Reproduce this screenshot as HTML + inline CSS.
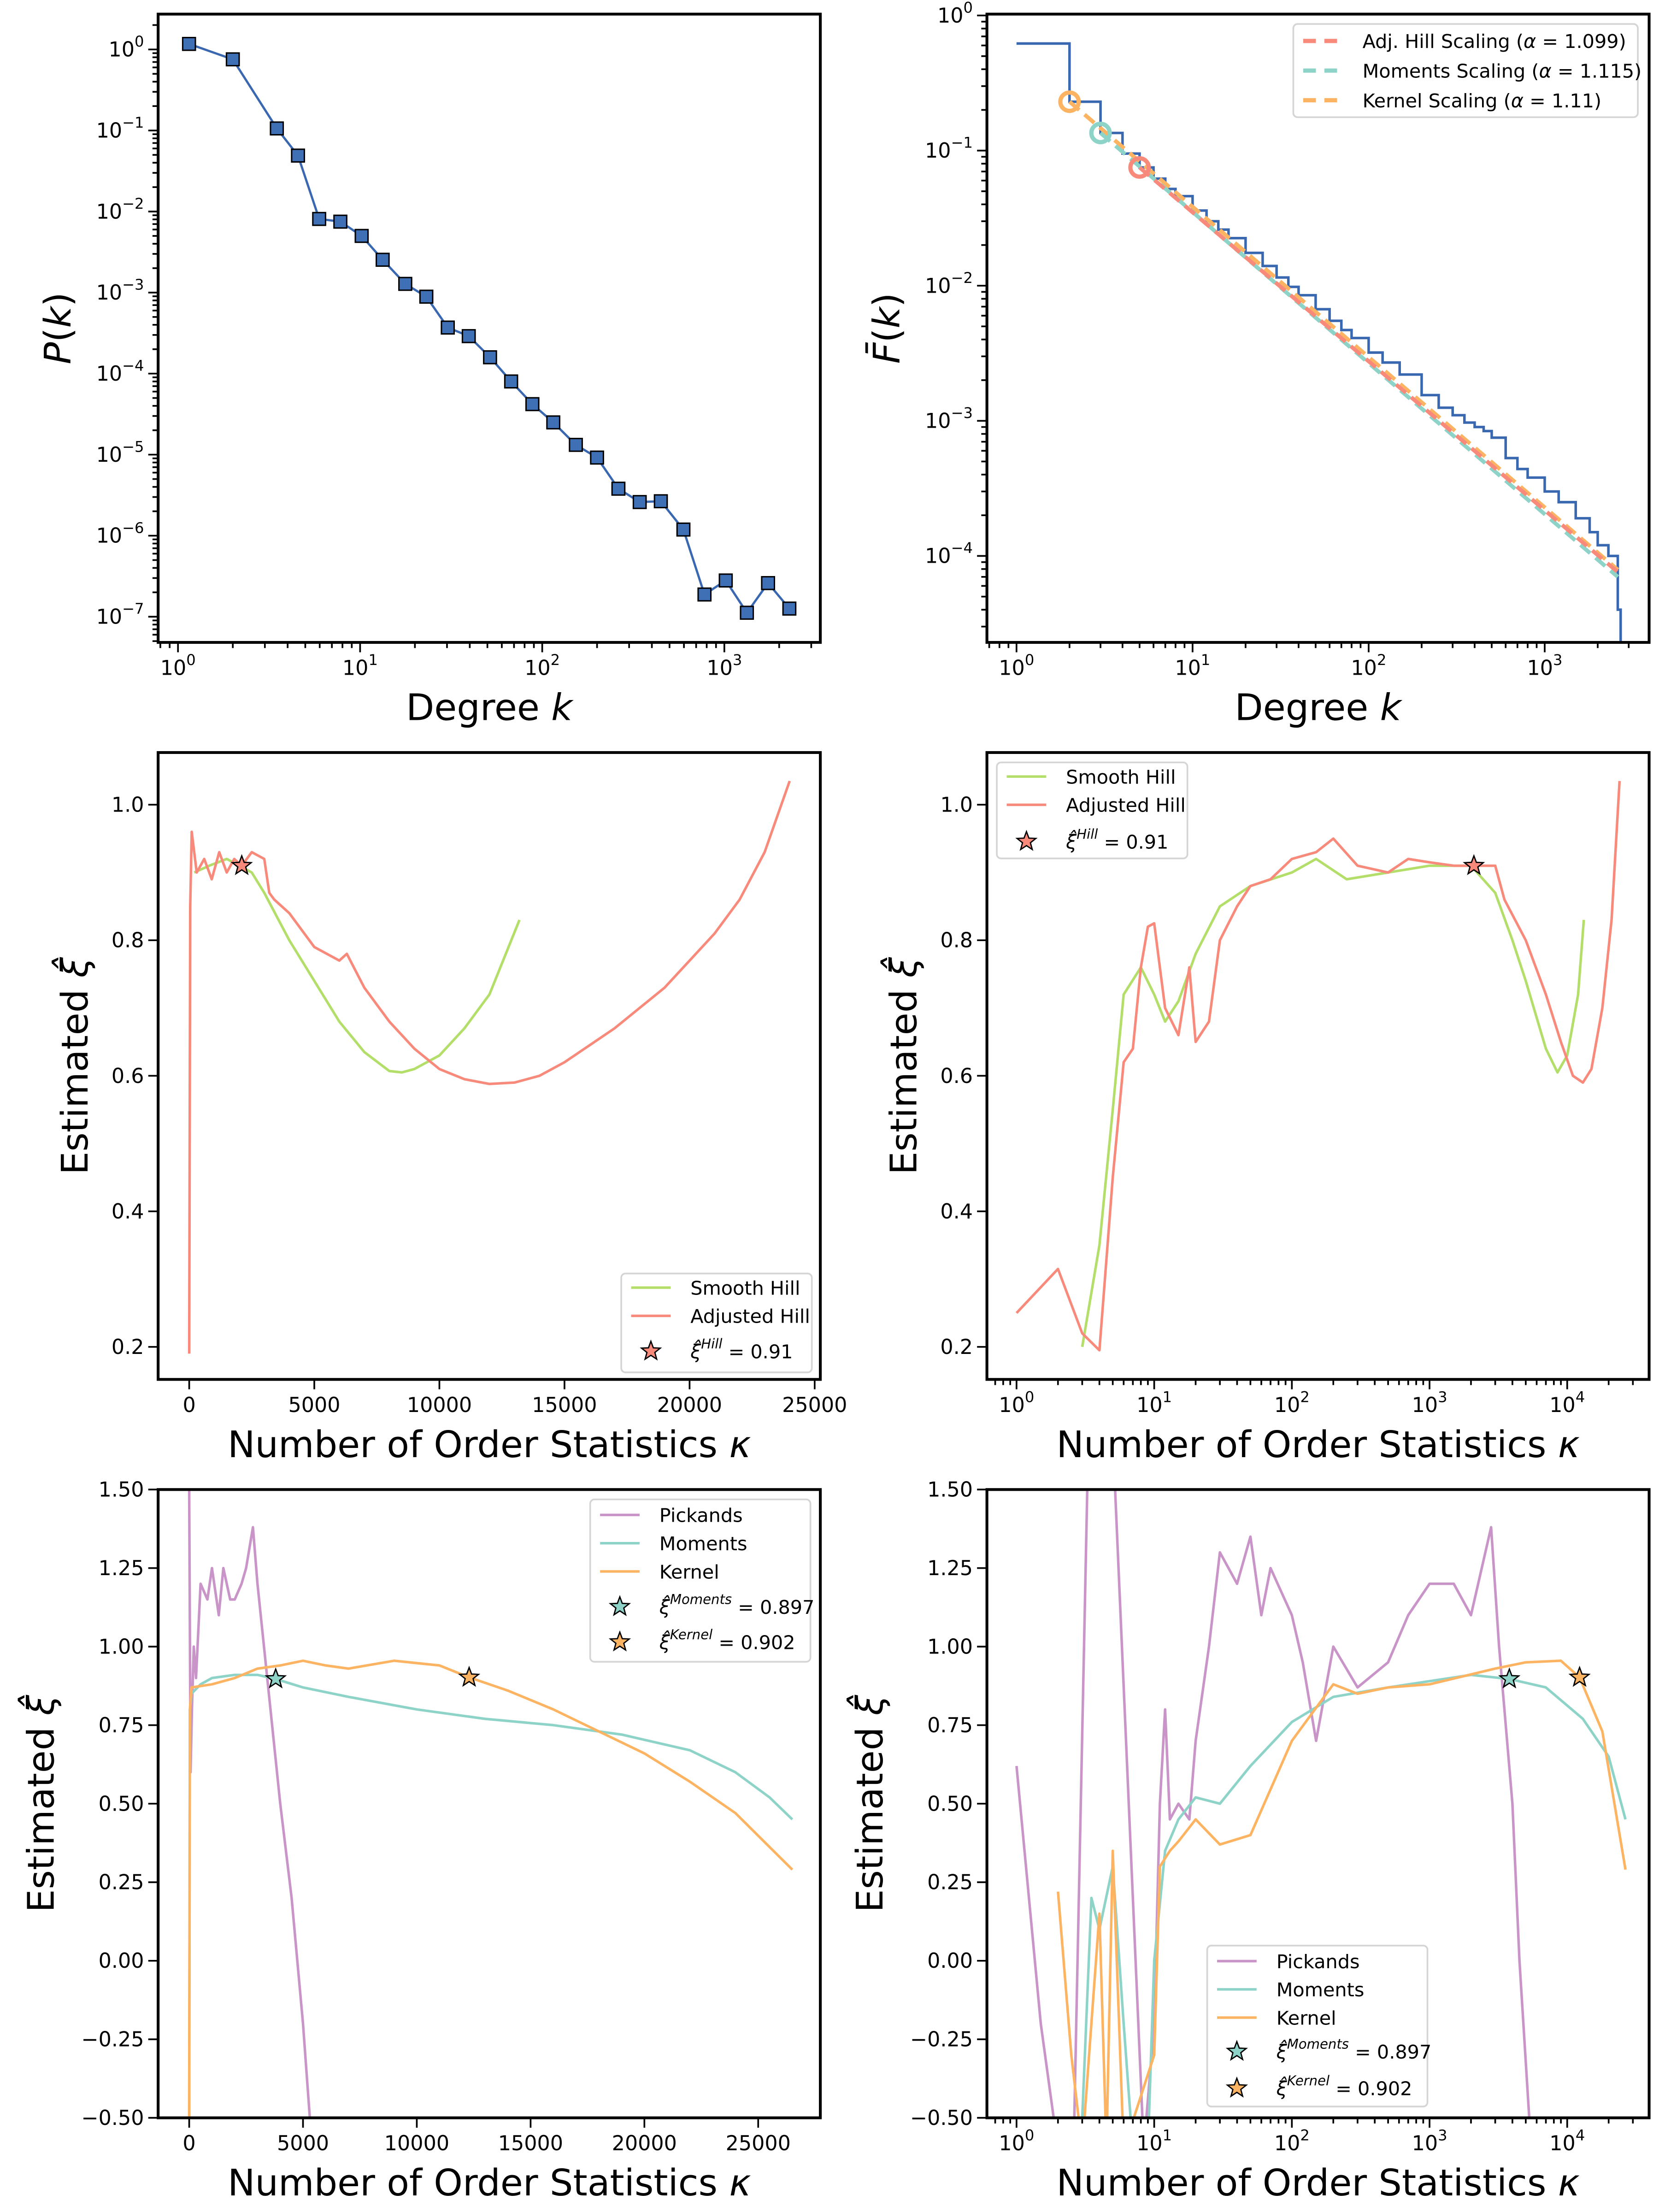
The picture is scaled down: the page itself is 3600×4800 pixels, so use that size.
<!DOCTYPE html>
<html><head><meta charset="utf-8"><style>
html,body{margin:0;padding:0;background:#fff;}
svg{display:block;}
text{font-family:"DejaVu Sans","Liberation Sans",sans-serif;fill:#000;}
</style></head><body>
<svg id="fig" xmlns="http://www.w3.org/2000/svg" width="3600" height="4800" viewBox="0 0 1175 1566.7" preserveAspectRatio="none">
<rect x="0" y="0" width="1175" height="1567" fill="#fff"/>
</svg>
<script>
// ---------- data ----------
const p1Degree=[1.15,2.0,3.49,4.56,5.96,7.79,10.2,13.3,17.7,23.1,30.3,39.5,51.7,67.5,88.3,115,153,200,262,343,448,596,778,1018,1330,1738,2275];
const p1Prob=[1.17,0.755,0.106,0.049,0.0081,0.0075,0.005,0.00254,0.00128,0.00089,0.00037,0.00029,0.000159,8.0e-5,4.2e-5,2.5e-5,1.32e-5,9.2e-6,3.8e-6,2.6e-6,2.66e-6,1.19e-6,1.88e-7,2.8e-7,1.12e-7,2.6e-7,1.26e-7];

const p2Degree=[1,2,3,4,5,6,7,8,10,12,14,16,20,25,30,35,40,50,60,70,80,100,120,150,200,250,300,350,400,450,500,600,700,800,1000,1200,1500,1800,2000,2300,2600,2700];
const p2Ccdf=[0.62,0.23,0.135,0.095,0.075,0.062,0.052,0.046,0.036,0.030,0.026,0.0225,0.0175,0.014,0.0115,0.0098,0.0085,0.0067,0.0055,0.0047,0.0041,0.0032,0.0027,0.0022,0.00155,0.00125,0.0011,0.00097,0.0009,0.00084,0.00075,0.00053,0.00044,0.00038,0.0003,0.00025,0.00019,0.00015,0.00012,0.0001,0.00004,0.00002];
const scalingNames=["Adj. Hill Scaling","Moments Scaling","Kernel Scaling"];
const scalingAlpha=["1.099","1.115","1.11"];
const scalingStartK=[5,3,2];
const scalingStartF=[0.075,0.135,0.23];
const scalingEndK=[2600,2600,2600];
const scalingEndF=[7.6e-5,7.0e-5,7.9e-5];

const hillLinK=[0,40,100,300,600,900,1200,1500,1800,2100,2500,3000,3200,3400,4000,5000,6000,6300,7000,8000,9000,10000,11000,12000,13000,14000,15000,16000,17000,18000,19000,20000,21000,22000,23000,24000];
const hillLinV=[0.19,0.85,0.96,0.9,0.92,0.89,0.93,0.9,0.92,0.91,0.93,0.92,0.87,0.86,0.84,0.79,0.77,0.78,0.73,0.68,0.64,0.61,0.595,0.588,0.59,0.60,0.62,0.645,0.67,0.70,0.73,0.77,0.81,0.86,0.93,1.035];
const smoothLinK=[200,800,1500,2500,3000,4000,5000,6000,7000,8000,8500,9000,10000,11000,12000,13200];
const smoothLinV=[0.90,0.91,0.92,0.90,0.87,0.80,0.74,0.68,0.635,0.607,0.605,0.61,0.63,0.67,0.72,0.83];

const hillLogK=[1,2,3,4,5,6,7,8,9,10,12,15,18,20,25,30,40,50,70,100,150,200,300,500,700,1000,1500,2100,3000,3500,5000,7000,9000,11000,13000,15000,18000,21000,24000];
const hillLogV=[0.25,0.315,0.22,0.195,0.45,0.62,0.64,0.76,0.82,0.825,0.70,0.66,0.76,0.65,0.68,0.80,0.85,0.88,0.89,0.92,0.93,0.95,0.91,0.90,0.92,0.915,0.91,0.91,0.91,0.86,0.80,0.72,0.65,0.60,0.59,0.61,0.70,0.83,1.035];
const smoothLogK=[3,4,5,6,8,10,12,15,20,30,50,100,150,250,500,1000,2000,3000,4000,5000,7000,8500,10000,12000,13200];
const smoothLogV=[0.20,0.35,0.55,0.72,0.76,0.72,0.68,0.71,0.78,0.85,0.88,0.90,0.92,0.89,0.90,0.91,0.91,0.87,0.80,0.74,0.64,0.605,0.63,0.72,0.83];

const pickLinK=[0,60,120,200,300,500,800,1000,1300,1500,1800,2000,2300,2500,2800,3000,3500,4000,4500,5000,5300];
const pickLinV=[1.5,0.6,0.8,1.0,0.9,1.2,1.15,1.25,1.1,1.25,1.15,1.15,1.2,1.25,1.38,1.2,0.85,0.5,0.2,-0.2,-0.5];
const momLinK=[0,30,100,500,1000,2000,3000,3800,5000,7000,10000,13000,16000,19000,22000,24000,25500,26500];
const momLinV=[-0.5,0.8,0.85,0.88,0.9,0.91,0.91,0.897,0.87,0.84,0.80,0.77,0.75,0.72,0.67,0.60,0.52,0.45];
const kerLinK=[0,30,100,1000,2000,3000,4000,5000,6000,7000,9000,11000,12300,14000,16000,18000,20000,22000,24000,26500];
const kerLinV=[-0.5,0.8,0.87,0.88,0.90,0.93,0.94,0.955,0.94,0.93,0.955,0.94,0.902,0.86,0.80,0.73,0.66,0.57,0.47,0.29];

const pickLogK=[1,1.5,2,2.6,3.3,4.5,5.2,8.4,10,11,12,13,15,18,20,25,30,40,50,60,70,100,120,150,200,300,500,700,1000,1500,2000,2800,3200,4000,4500,5300];
const pickLogV=[0.62,-0.2,-0.6,-0.6,1.6,1.6,1.5,-0.6,-0.2,0.5,0.8,0.45,0.5,0.45,0.7,1.0,1.3,1.2,1.35,1.1,1.25,1.1,0.95,0.7,1.0,0.87,0.95,1.1,1.2,1.2,1.1,1.38,1.0,0.5,0.0,-0.5];
const momLogK=[3,3.5,4,5,6,7,9,10,12,15,20,30,50,100,200,500,1000,2000,3800,7000,13000,20000,26500];
const momLogV=[-0.5,0.2,0.1,0.3,-0.2,-0.6,-0.6,0.0,0.35,0.45,0.52,0.5,0.62,0.76,0.84,0.87,0.89,0.91,0.897,0.87,0.77,0.65,0.45];
const kerLogK=[2,2.5,3,4,4.5,5,6,10,11,13,15,20,30,50,100,200,300,500,1000,3000,5000,9000,12300,18000,26500];
const kerLogV=[0.22,-0.3,-0.6,0.15,-0.6,0.35,-0.6,-0.3,0.3,0.35,0.38,0.45,0.37,0.4,0.7,0.88,0.85,0.87,0.88,0.93,0.95,0.955,0.902,0.73,0.29];

// ---------- helpers ----------
const NS="http://www.w3.org/2000/svg";
const fig=document.getElementById('fig');
function el(tag,attrs,parent){const e=document.createElementNS(NS,tag);for(const k in attrs)e.setAttribute(k,attrs[k]);(parent||fig).appendChild(e);return e;}
const C={blue:"#3a68b0",red:"#f88a7c",teal:"#8dd3c7",orange:"#fdb462",green:"#b3de69",purple:"#c994c7"};
let clipId=0;
function axes(cfg){
  const g=el('g',{});
  
  
  const {x0,x1,y0,y1}=cfg;
  const lg=v=>Math.log10(v);
  const sx=cfg.xlog?(v=>x0+(lg(v)-cfg.xmin)/(cfg.xmax-cfg.xmin)*(x1-x0)):(v=>x0+(v-cfg.xmin)/(cfg.xmax-cfg.xmin)*(x1-x0));
  const sy=cfg.ylog?(v=>y1-(lg(v)-cfg.ymin)/(cfg.ymax-cfg.ymin)*(y1-y0)):(v=>y1-(v-cfg.ymin)/(cfg.ymax-cfg.ymin)*(y1-y0));
  const id='clip'+(clipId++);
  const cp=el('clipPath',{id:id},g);el('rect',{x:x0,y:y0,width:x1-x0,height:y1-y0},cp);
  const plot=el('g',{'clip-path':'url(#'+id+')'},g);
  
  
  const tg=el('g',{stroke:'#000','stroke-width':1.2},g);
  function xt(v,label,major){const X=sx(v);if(X<x0-0.5||X>x1+0.5)return;el('line',{x1:X,y1:y1,x2:X,y2:y1+(major?7:4)},tg);
    if(label!==null){const t=el('text',{x:X,y:y1+23,'font-size':14.5,'text-anchor':'middle',stroke:'none'},g);label(t);}}
  function yt(v,label,major){const Y=sy(v);if(Y<y0-0.5||Y>y1+0.5)return;el('line',{x1:x0,y1:Y,x2:x0-(major?7:4),y2:Y},tg);
    if(label!==null){const t=el('text',{x:x0-10,y:Y+5,'font-size':14.5,'text-anchor':'end',stroke:'none'},g);label(t);}}
  function pow(t,e){t.textContent='10';const s=el('tspan',{dy:-7,'font-size':10.5},t);s.textContent=(e<0?'\u2212':'')+Math.abs(e);}
  if(cfg.xlog){for(let e=Math.floor(cfg.xmin);e<=Math.ceil(cfg.xmax);e++){xt(Math.pow(10,e),t=>pow(t,e),true);for(let m=2;m<10;m++)xt(m*Math.pow(10,e),null,false);}}
  else cfg.xticks.forEach(v=>xt(v,t=>t.textContent=String(v),true));
  if(cfg.ylog){for(let e=Math.floor(cfg.ymin);e<=Math.ceil(cfg.ymax);e++){yt(Math.pow(10,e),t=>pow(t,e),true);for(let m=2;m<10;m++)yt(m*Math.pow(10,e),null,false);}}
  else cfg.yticks.forEach(v=>yt(v,t=>t.textContent=cfg.yfmt(v),true));
  el('rect',{x:x0,y:y0,width:x1-x0,height:y1-y0,fill:'none',stroke:'#000','stroke-width':2},g);
  const xl=el('text',{x:(x0+x1)/2,y:y1+55,'font-size':26,'text-anchor':'middle'},g);
  
  cfg.xlabel(xl);
  const yl=el('text',{x:0,y:0,'font-size':26,'text-anchor':'middle',transform:`translate(${cfg.ylx},${(y0+y1)/2}) rotate(-90)`},g);
  
  cfg.ylabel(yl);
  return {g,plot,sx,sy};
}
function ts(parent,text,attrs){const s=el('tspan',attrs||{},parent);s.textContent=text;return s;}
function degreeLabel(t){ts(t,'Degree ');ts(t,'k',{'font-style':'italic'});}
function orderLabel(t){ts(t,'Number of Order Statistics ');ts(t,'\u03ba',{'font-style':'italic'});}
function xiLabel(t){ts(t,'Estimated ');ts(t,'\u03be\u0302',{'font-style':'italic'});}
function line(ax,xs,ys,color,name,w,dash){
  const d=xs.map((v,i)=>(i?'L':'M')+ax.sx(v).toFixed(2)+' '+ax.sy(ys[i]).toFixed(2)).join(' ');
  const p=el('path',{d:d,fill:'none',stroke:color,'stroke-width':w||1.8,'stroke-linejoin':'round'},ax.plot);
  if(dash)p.setAttribute('stroke-dasharray',dash);
  return p;
}
function star(parent,cx,cy,r,color,name){
  let pts=[];for(let i=0;i<10;i++){const a=-Math.PI/2+i*Math.PI/5;const rr=i%2?r*0.42:r;pts.push((cx+rr*Math.cos(a)).toFixed(2)+','+(cy+rr*Math.sin(a)).toFixed(2));}
  const s=el('polygon',{points:pts.join(' '),fill:color,stroke:'#000','stroke-width':0.9},parent);
  return s;
}
function legend(x,y,w,h,name){
  const g=el('g',{});
  el('rect',{x:x,y:y,width:w,height:h,rx:3,fill:'#fff','fill-opacity':0.85,stroke:'#d5d5d5','stroke-width':1.2},g);return g;
}
function legLine(g,x,y,color,label,dash){
  const l=el('line',{x1:x,y1:y,x2:x+28,y2:y,stroke:color,'stroke-width':dash?3:1.8},g);if(dash)l.setAttribute('stroke-dasharray','9,6');
  const t=el('text',{x:x+42,y:y+5,'font-size':13.5},g);t.textContent=label;
  return t;
}
function legStar(g,x,y,color,sup,val){
  star(g,x+14,y,7,color,'legend-star');
  const t=el('text',{x:x+42,y:y+5,'font-size':13.5},g);
  
  ts(t,'\u03be\u0302',{'font-style':'italic'});ts(t,sup,{'font-style':'italic','font-size':9.5,dy:-7});ts(t,' = '+val,{dy:7});
}

// ---------- panel 1 ----------
{const ax=axes({name:'degree-distribution-panel',x0:112,x1:581,y0:10,y1:455,xlog:true,xmin:-0.109,xmax:3.527,ylog:true,ymin:-7.317,ymax:0.436,
  xlabel:degreeLabel,ylx:50,ylabel:t=>{ts(t,'P',{'font-style':'italic'});ts(t,'(');ts(t,'k',{'font-style':'italic'});ts(t,')');}});
 line(ax,p1Degree,p1Prob,C.blue,'degree-distribution-line',1.6);
 p1Degree.forEach((k,i)=>{const r=el('rect',{x:ax.sx(k)-4.5,y:ax.sy(p1Prob[i])-4.5,width:9,height:9,fill:'#3f6fb5',stroke:'#000','stroke-width':1},ax.plot);
  });}

// ---------- panel 2 ----------
{const ax=axes({name:'ccdf-panel',x0:699,x1:1168,y0:10,y1:455,xlog:true,xmin:-0.168,xmax:3.593,ylog:true,ymin:-4.64,ymax:0.01,
  xlabel:degreeLabel,ylx:637,ylabel:t=>{ts(t,'F\u0304',{'font-style':'italic'});ts(t,'(');ts(t,'k',{'font-style':'italic'});ts(t,')');}});
 let d='';p2Degree.forEach((k,i)=>{const X=ax.sx(k),Y=ax.sy(p2Ccdf[i]);if(i===0)d+='M'+X+' '+Y;else d+=' H'+X+' V'+Y;});
 d+=' V'+(ax.sy(1e-6));
 const p=el('path',{d:d,fill:'none',stroke:C.blue,'stroke-width':1.8},ax.plot);
 const cols=[C.red,C.teal,C.orange];
 [2,1,0].forEach(i=>{line(ax,[scalingStartK[i],scalingEndK[i]],[scalingStartF[i],scalingEndF[i]],cols[i],'scaling-fit-line',2.8,'9,5');});
 [0,1,2].forEach(i=>{const c=el('circle',{cx:ax.sx(scalingStartK[i]),cy:ax.sy(scalingStartF[i]),r:6.5,fill:'none',stroke:cols[i],'stroke-width':3},ax.plot);
  });
 const lg=legend(916,17,244,66,'scaling-legend');
 [0,1,2].forEach(i=>{const t=legLine(lg,923,29+i*21,cols[i],'',true);t.textContent='';ts(t,scalingNames[i]+' (');ts(t,'\u03b1',{'font-style':'italic'});ts(t,' = '+scalingAlpha[i]+')');});}

// ---------- panel 3 ----------
const xiTicks=[0.2,0.4,0.6,0.8,1.0];
{const ax=axes({name:'hill-linear-panel',x0:112,x1:581,y0:533,y1:977,xlog:false,xmin:-1242,xmax:25226,ylog:false,ymin:0.152,ymax:1.077,
  xticks:[0,5000,10000,15000,20000,25000],yticks:xiTicks,yfmt:v=>v.toFixed(1),xlabel:orderLabel,ylx:62,ylabel:xiLabel});
 line(ax,smoothLinK,smoothLinV,C.green,'smooth-hill-line');
 line(ax,hillLinK,hillLinV,C.red,'adjusted-hill-line');
 star(ax.plot,ax.sx(2100),ax.sy(0.91),7,C.red,'hill-estimate-star');
 const lg=legend(440,902,135,70,'hill-legend');
 legLine(lg,447,912,C.green,'Smooth Hill');legLine(lg,447,932,C.red,'Adjusted Hill');legStar(lg,447,957,C.red,'Hill','0.91');}

// ---------- panel 4 ----------
{const ax=axes({name:'hill-log-panel',x0:699,x1:1168,y0:533,y1:977,xlog:true,xmin:-0.215,xmax:4.595,ylog:false,ymin:0.152,ymax:1.077,
  yticks:xiTicks,yfmt:v=>v.toFixed(1),xlabel:orderLabel,ylx:649,ylabel:xiLabel});
 line(ax,smoothLogK,smoothLogV,C.green,'smooth-hill-line');
 line(ax,hillLogK,hillLogV,C.red,'adjusted-hill-line');
 star(ax.plot,ax.sx(2100),ax.sy(0.91),7,C.red,'hill-estimate-star');
 const lg=legend(706,540,135,68,'hill-legend');
 legLine(lg,713,550,C.green,'Smooth Hill');legLine(lg,713,570,C.red,'Adjusted Hill');legStar(lg,713,596,C.red,'Hill','0.91');}

// ---------- panel 5 ----------
const estTicks=[-0.5,-0.25,0,0.25,0.5,0.75,1.0,1.25,1.5];
const estFmt=v=>(v<0?'\u2212':'')+Math.abs(v).toFixed(2);
{const ax=axes({name:'estimators-linear-panel',x0:112,x1:581,y0:1055,y1:1500,xlog:false,xmin:-1365,xmax:27730,ylog:false,ymin:-0.5,ymax:1.5,
  xticks:[0,5000,10000,15000,20000,25000],yticks:estTicks,yfmt:estFmt,xlabel:orderLabel,ylx:38,ylabel:xiLabel});
 line(ax,pickLinK,pickLinV,C.purple,'pickands-line');
 line(ax,momLinK,momLinV,C.teal,'moments-line');
 line(ax,kerLinK,kerLinV,C.orange,'kernel-line');
 star(ax.plot,ax.sx(3800),ax.sy(0.897),7,C.teal,'moments-estimate-star');
 star(ax.plot,ax.sx(12300),ax.sy(0.902),7,C.orange,'kernel-estimate-star');
 const lg=legend(418,1062,156,115,'estimators-legend');
 legLine(lg,425,1073,C.purple,'Pickands');legLine(lg,425,1093,C.teal,'Moments');legLine(lg,425,1113,C.orange,'Kernel');
 legStar(lg,425,1138,C.teal,'Moments','0.897');legStar(lg,425,1163,C.orange,'Kernel','0.902');}

// ---------- panel 6 ----------
{const ax=axes({name:'estimators-log-panel',x0:699,x1:1168,y0:1055,y1:1500,xlog:true,xmin:-0.215,xmax:4.595,ylog:false,ymin:-0.5,ymax:1.5,
  yticks:estTicks,yfmt:estFmt,xlabel:orderLabel,ylx:625,ylabel:xiLabel});
 line(ax,pickLogK,pickLogV,C.purple,'pickands-line');
 line(ax,momLogK,momLogV,C.teal,'moments-line');
 line(ax,kerLogK,kerLogV,C.orange,'kernel-line');
 star(ax.plot,ax.sx(3800),ax.sy(0.897),7,C.teal,'moments-estimate-star');
 star(ax.plot,ax.sx(12300),ax.sy(0.902),7,C.orange,'kernel-estimate-star');
 const lg=legend(855,1378,156,114,'estimators-legend');
 legLine(lg,862,1389,C.purple,'Pickands');legLine(lg,862,1409,C.teal,'Moments');legLine(lg,862,1429,C.orange,'Kernel');
 legStar(lg,862,1453,C.teal,'Moments','0.897');legStar(lg,862,1479,C.orange,'Kernel','0.902');}
</script>
</body></html>
